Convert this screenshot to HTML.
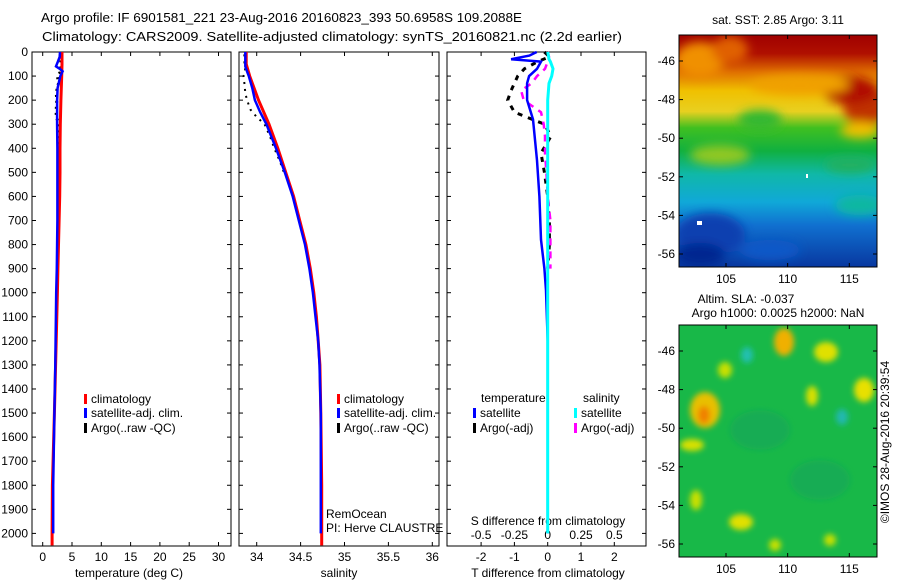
<!DOCTYPE html>
<html><head><meta charset="utf-8"><style>
html,body{margin:0;padding:0;background:#fff;}
svg{display:block;font-family:"Liberation Sans",sans-serif;}
</style></head><body>
<svg id="chart" width="900" height="580" viewBox="0 0 900 580" xmlns="http://www.w3.org/2000/svg">
<defs>
<linearGradient id="sstg" x1="0" y1="0" x2="0" y2="1">
<stop offset="0" stop-color="#a00000"/><stop offset="0.08" stop-color="#b01000"/>
<stop offset="0.16" stop-color="#e07000"/><stop offset="0.24" stop-color="#f0c000"/>
<stop offset="0.33" stop-color="#e8d020"/><stop offset="0.40" stop-color="#40c020"/>
<stop offset="0.50" stop-color="#10b040"/><stop offset="0.60" stop-color="#10b8a8"/>
<stop offset="0.72" stop-color="#10a8d8"/><stop offset="0.82" stop-color="#1070d0"/>
<stop offset="1" stop-color="#0838a0"/></linearGradient>
<filter id="blur4"><feGaussianBlur stdDeviation="5"/></filter>
<filter id="blur2"><feGaussianBlur stdDeviation="3"/></filter>
<clipPath id="c1"><rect x="679" y="35" width="198" height="232"/></clipPath>
<clipPath id="c2"><rect x="679" y="325" width="198" height="232"/></clipPath>
</defs>
<g font-size="13">
<text x="41" y="22" textLength="481" lengthAdjust="spacingAndGlyphs">Argo profile: IF 6901581_221 23-Aug-2016 20160823_393 50.6958S 109.2088E</text>
<text x="42" y="41" textLength="580" lengthAdjust="spacingAndGlyphs">Climatology: CARS2009. Satellite-adjusted climatology: synTS_20160821.nc (2.2d earlier)</text>
</g>
<g id="p1"></g>
<g id="p2"></g>
<g id="p3"></g>

<g>
<text x="778" y="24" font-size="12" text-anchor="middle">sat. SST: 2.85 Argo: 3.11</text>
<g clip-path="url(#c1)">
<rect x="679" y="35" width="198" height="232" fill="url(#sstg)"/>
<g filter="url(#blur4)">
<ellipse cx="700" cy="60" rx="25" ry="18" fill="#f09000"/>
<ellipse cx="730" cy="50" rx="18" ry="14" fill="#e06000"/>
<ellipse cx="865" cy="105" rx="22" ry="22" fill="#c03000"/>
<ellipse cx="850" cy="90" rx="28" ry="14" fill="#b01000"/>
<ellipse cx="800" cy="85" rx="50" ry="10" fill="#f0a000"/>
<ellipse cx="760" cy="120" rx="22" ry="10" fill="#30b830"/>
<ellipse cx="720" cy="155" rx="30" ry="10" fill="#90c820"/>
<ellipse cx="860" cy="130" rx="20" ry="8" fill="#f0c000"/>
<ellipse cx="850" cy="165" rx="25" ry="8" fill="#20b060"/>
<ellipse cx="710" cy="235" rx="35" ry="22" fill="#0840b0"/>
<ellipse cx="700" cy="255" rx="25" ry="12" fill="#002890"/>
<ellipse cx="770" cy="250" rx="30" ry="10" fill="#1058c8"/>
<ellipse cx="860" cy="205" rx="25" ry="10" fill="#10b8a0"/>
</g>
<rect x="806" y="174" width="2" height="4" fill="#fff"/>
<rect x="697" y="221" width="5" height="4" fill="#fff"/>
</g>
<rect x="679" y="35" width="198" height="232" fill="none" stroke="#000"/>
</g>
<g>
<text x="746" y="303" font-size="12" text-anchor="middle">Altim. SLA: -0.037</text>
<text x="778" y="317" font-size="12" text-anchor="middle">Argo h1000: 0.0025 h2000: NaN</text>
<g clip-path="url(#c2)">
<rect x="679" y="325" width="198" height="232" fill="#18b848"/>
<g filter="url(#blur2)">
<ellipse cx="784" cy="342" rx="10" ry="14" fill="#f0b000"/>
<ellipse cx="826" cy="352" rx="12" ry="10" fill="#e0e000"/>
<ellipse cx="705" cy="410" rx="15" ry="18" fill="#e8c000"/>
<ellipse cx="704" cy="415" rx="6" ry="9" fill="#f08000"/>
<ellipse cx="692" cy="445" rx="12" ry="6" fill="#d8e000"/>
<ellipse cx="747" cy="355" rx="6" ry="8" fill="#20c0b0"/>
<ellipse cx="842" cy="417" rx="6" ry="8" fill="#20b8b0"/>
<ellipse cx="864" cy="390" rx="10" ry="12" fill="#e8e000"/>
<ellipse cx="812" cy="396" rx="6" ry="10" fill="#d8e000"/>
<ellipse cx="741" cy="522" rx="12" ry="8" fill="#e0e000"/>
<ellipse cx="696" cy="500" rx="6" ry="10" fill="#c8e000"/>
<ellipse cx="725" cy="370" rx="7" ry="8" fill="#c8e000"/>
<ellipse cx="830" cy="540" rx="6" ry="6" fill="#c8e000"/>
<ellipse cx="775" cy="545" rx="6" ry="6" fill="#c8e000"/>
<ellipse cx="760" cy="430" rx="30" ry="20" fill="#10a060" opacity="0.5"/>
<ellipse cx="820" cy="480" rx="30" ry="20" fill="#10a060" opacity="0.5"/>
</g>
</g>
<rect x="679" y="325" width="198" height="232" fill="none" stroke="#000"/>
</g>
<g id="maxes"></g>
<text transform="translate(889,442) rotate(-90)" font-size="12" text-anchor="middle">©IMOS 28-Aug-2016 20:39:54</text>
</svg>
<script>
// ---- data ----
const tempTicks = [0,5,10,15,20,25,30];
const depthTicks = [0,100,200,300,400,500,600,700,800,900,1000,1100,1200,1300,1400,1500,1600,1700,1800,1900,2000];
const salTicks = [34,34.5,35,35.5,36];
const salTickLabels = ["34","34.5","35","35.5","36"];
const tdiffTicks = [-2,-1,0,1,2];
const sdiffTicks = [-0.5,-0.25,0,0.25,0.5];
const lonTicks = [105,110,115];
const latTicks = [-46,-48,-50,-52,-54,-56];

const climDepth = [0,50,100,200,300,400,500,600,700,800,900,1000,1100,1200,1300,1500,1800,2000,2050];
const climTemp  = [3.3,3.3,3.25,3.1,3.0,2.95,2.95,2.9,2.8,2.7,2.6,2.5,2.4,2.3,2.2,2.0,1.65,1.6,1.6];
const climSal   = [33.88,33.88,33.92,34.02,34.14,34.24,34.33,34.42,34.49,34.56,34.61,34.65,34.68,34.70,34.72,34.73,34.74,34.74,34.74];

const satDepth = [0,20,40,60,70,80,100,150,200,250,300,400,500,600,700,800,900,1000,1100,1200,1300,1500,1800,2000];
const satTemp  = [2.95,2.9,2.6,2.27,2.9,3.4,3.0,2.55,2.45,2.45,2.45,2.5,2.5,2.5,2.5,2.45,2.4,2.3,2.25,2.2,2.15,2.0,1.8,1.8];
const satSal   = [33.87,33.87,33.87,33.87,33.88,33.89,33.91,33.95,33.98,34.04,34.11,34.22,34.32,34.41,34.48,34.55,34.60,34.64,34.67,34.70,34.715,34.73,34.73,34.73];

const argoDepth = [10,40,80,100,130,170,200,240,270,300,350,400,450,500];
const argoTemp  = [3.0,3.1,3.1,2.5,2.7,2.3,2.4,2.3,2.3,2.8,2.9,2.8,2.7,2.7];
const argoSal   = [33.86,33.86,33.87,33.85,33.86,33.87,33.89,33.93,34.0,34.09,34.15,34.20,34.26,34.31];

const tdDepth = [0,15,30,40,70,100,130,200,280,450,600,780,900,990,1200,1500,2000];
const tdSat   = [-0.33,-0.55,-1.1,-0.2,-0.32,-0.56,-0.62,-0.62,-0.44,-0.32,-0.25,-0.2,-0.1,-0.05,0,0,0];
const sdSat   = [0.0,0.005,0.01,0.02,0.04,0.03,0.01,0.0,0.0,0.0,0.0,0.0,0.0,0.0,0.0,0.0,0.0];
const tdArgoDepth = [0,20,40,70,100,130,160,200,250,300,350,420,500,600,700,800,900];
const tdArgo  = [-0.1,0.05,-0.3,-0.7,-0.9,-1.0,-1.1,-1.2,-1.0,-0.1,0.1,-0.2,-0.1,0,0.05,0.05,0.0];
const sdArgo  = [0.0,0.01,0.0,-0.02,-0.08,-0.12,-0.2,-0.18,-0.05,-0.03,-0.02,-0.02,-0.01,0.0,0.02,0.02,0.02];

// ---- helpers ----
const NS="http://www.w3.org/2000/svg";
function mk(parent,tag,attrs,text){const e=document.createElementNS(NS,tag);for(const k in attrs)e.setAttribute(k,attrs[k]);if(text!==undefined)e.textContent=text;parent.appendChild(e);return e;}
const yTop=52, yBot=546;
const yD = d => 52 + d*0.2407;

function frame(g,x0,x1){
  const r=mk(g,'rect',{x:x0,y:yTop,width:x1-x0,height:yBot-yTop,fill:'none',stroke:'#000'});
  
  
}
function line(g,xs,ys,xf,color,w,dash,name){
  const pts=xs.map((v,i)=>xf(v).toFixed(1)+','+yD(ys[i]).toFixed(1)).join(' ');
  const p=mk(g,'polyline',{points:pts,fill:'none',stroke:color,'stroke-width':w,'stroke-dasharray':dash||'none'});
  
  
}
function depthAxis(g,x0,x1,labels){
  depthTicks.forEach(d=>{const y=yD(d);
    mk(g,'line',{x1:x0,y1:y,x2:x0+4,y2:y,stroke:'#000'});
    mk(g,'line',{x1:x1,y1:y,x2:x1-4,y2:y,stroke:'#000'});
    if(labels){const t=mk(g,'text',{x:x0-4,y:y+4,'font-size':12,'text-anchor':'end'},String(d));
      
      }
  });
}
function legendItem(g,x,y,color,label){
  mk(g,'rect',{x:x,y:y-8,width:3,height:10,fill:color});
  const t=mk(g,'text',{x:x+7,y:y+1,'font-size':12},label);
  
  
}

// ---- panel 1 temperature ----
const p1=document.getElementById('p1');
const xT = v => 42.7 + v*5.86;
frame(p1,32,231); depthAxis(p1,32,231,true);
tempTicks.forEach(v=>{const x=xT(v);
  mk(p1,'line',{x1:x,y1:yBot,x2:x,y2:yBot-4,stroke:'#000'});
  mk(p1,'line',{x1:x,y1:yTop,x2:x,y2:yTop+4,stroke:'#000'});
  const t=mk(p1,'text',{x:x,y:561,'font-size':12,'text-anchor':'middle'},String(v));
  
  });
{const t=mk(p1,'text',{x:129,y:577,'font-size':12,'text-anchor':'middle'},'temperature (deg C)');

}
line(p1,argoTemp,argoDepth,xT,'#000',3,'2,4','argo-temperature');
line(p1,climTemp,climDepth,xT,'#f00',3,null,'climatology-temperature');
line(p1,satTemp,satDepth,xT,'#00f',2.5,null,'satellite-temperature');
legendItem(p1,84,402,'#f00','climatology');
legendItem(p1,84,416,'#00f','satellite-adj. clim.');
legendItem(p1,84,431,'#000','Argo(..raw -QC)');

// ---- panel 2 salinity ----
const p2=document.getElementById('p2');
const xS = v => 256.7 + (v-34)*87.8;
frame(p2,239,439); depthAxis(p2,239,439,false);
salTicks.forEach((v,i)=>{const x=xS(v);
  mk(p2,'line',{x1:x,y1:yBot,x2:x,y2:yBot-4,stroke:'#000'});
  mk(p2,'line',{x1:x,y1:yTop,x2:x,y2:yTop+4,stroke:'#000'});
  const t=mk(p2,'text',{x:x,y:561,'font-size':12,'text-anchor':'middle'},salTickLabels[i]);
  
  });
{const t=mk(p2,'text',{x:339,y:577,'font-size':12,'text-anchor':'middle'},'salinity');

}
line(p2,argoSal,argoDepth,xS,'#000',2,'2,5','argo-salinity');
line(p2,climSal,climDepth,xS,'#f00',3,null,'climatology-salinity');
line(p2,satSal,satDepth,xS,'#00f',2.5,null,'satellite-salinity');
legendItem(p2,337,402,'#f00','climatology');
legendItem(p2,337,416,'#00f','satellite-adj. clim.');
legendItem(p2,337,431,'#000','Argo(..raw -QC)');
{const t=mk(p2,'text',{x:326,y:518,'font-size':12},'RemOcean');


const t2=mk(p2,'text',{x:326,y:532,'font-size':12},'PI: Herve CLAUSTRE');

}

// ---- panel 3 differences ----
const p3=document.getElementById('p3');
const xTD = v => 547.7 + v*33.3;
const xSD = v => 547.7 + v*133.2;
frame(p3,447,646);
depthTicks.forEach(d=>{const y=yD(d);mk(p3,'line',{x1:447,y1:y,x2:451,y2:y,stroke:'#000'});mk(p3,'line',{x1:646,y1:y,x2:642,y2:y,stroke:'#000'});});
tdiffTicks.forEach(v=>{const x=xTD(v);
  mk(p3,'line',{x1:x,y1:yBot,x2:x,y2:yBot-4,stroke:'#000'});
  mk(p3,'line',{x1:x,y1:yTop,x2:x,y2:yTop+4,stroke:'#000'});
  const t=mk(p3,'text',{x:x,y:561,'font-size':12,'text-anchor':'middle'},String(v));
  
  });
sdiffTicks.forEach(v=>{const x=xSD(v);
  const t=mk(p3,'text',{x:x,y:539,'font-size':12,'text-anchor':'middle'},String(v));
  
  });
{const t=mk(p3,'text',{x:548,y:525,'font-size':12,'text-anchor':'middle'},'S difference from climatology');


const t2=mk(p3,'text',{x:548,y:577,'font-size':12,'text-anchor':'middle'},'T difference from climatology');

}
line(p3,tdArgo,tdArgoDepth,xTD,'#000',3,'5,6','argo-t-diff');
line(p3,sdArgo,tdArgoDepth,xSD,'#f0f',2.5,'7,6','argo-s-diff');
line(p3,tdSat,tdDepth,xTD,'#00f',2.5,null,'satellite-t-diff');
line(p3,sdSat,tdDepth,xSD,'#0ff',3,null,'satellite-s-diff');
{const t=mk(p3,'text',{x:481,y:402,'font-size':12},'temperature');


const t2=mk(p3,'text',{x:583,y:402,'font-size':12},'salinity');

}
legendItem(p3,473,416,'#00f','satellite');
legendItem(p3,473,431,'#000','Argo(-adj)');
legendItem(p3,574,416,'#0ff','satellite');
legendItem(p3,574,431,'#f0f','Argo(-adj)');

// ---- map axes ----
const ma=document.getElementById('maxes');
const xLon = v => 726 + (v-105)*12.33;
[[35,267],[325,557]].forEach(([t0,b0])=>{
  const yLat = v => t0+26 + (-46-v)*19.3;
  lonTicks.forEach(v=>{const x=xLon(v);
    mk(ma,'line',{x1:x,y1:b0,x2:x,y2:b0-4,stroke:'#000'});
    mk(ma,'line',{x1:x,y1:t0,x2:x,y2:t0+4,stroke:'#000'});
    const t=mk(ma,'text',{x:x,y:b0+16,'font-size':12,'text-anchor':'middle'},String(v));
    
    });
  latTicks.forEach(v=>{const y=yLat(v);
    mk(ma,'line',{x1:679,y1:y,x2:683,y2:y,stroke:'#000'});
    mk(ma,'line',{x1:877,y1:y,x2:873,y2:y,stroke:'#000'});
    const t=mk(ma,'text',{x:675,y:y+4,'font-size':12,'text-anchor':'end'},String(v));
    
    });
});
</script>
</body></html>
